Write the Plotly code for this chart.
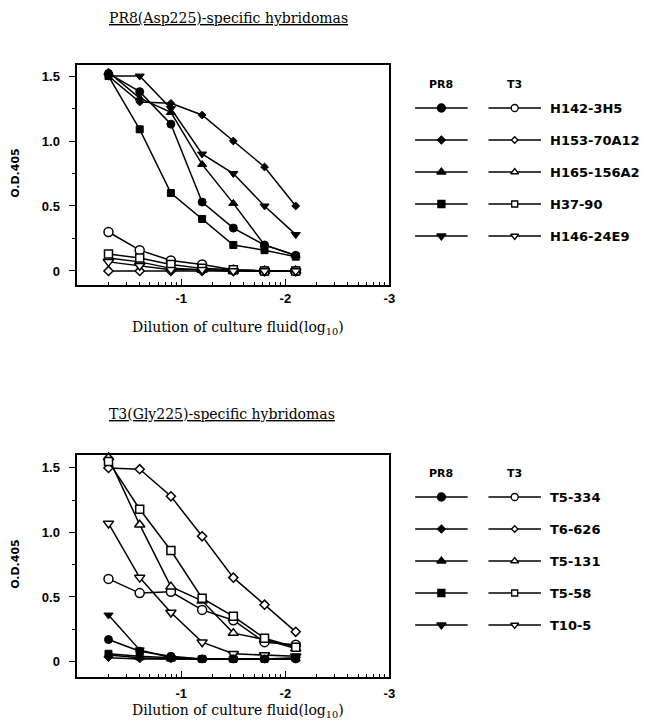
import math
import plotly.graph_objects as go

# ---------------- data ----------------
dilution_log10 = [-0.3, -0.6, -0.9, -1.2, -1.5, -1.8, -2.1]

x_tick_vals = [-1, -2, -3]
x_tick_text = ["-1", "-2", "-3"]
y_tick_vals = [0, 0.5, 1.0, 1.5]
y_tick_text = ["0", "0.5", "1.0", "1.5"]
y_minor_vals = [0.25, 0.75, 1.25]

top_title = "PR8(Asp225)-specific hybridomas"
bottom_title = "T3(Gly225)-specific hybridomas"
x_title = "Dilution of culture fluid(log<sub>10</sub>)"
y_title = "O.D.405"
legend_headers = ["PR8", "T3"]

top_clones = ["H142-3H5", "H153-70A12", "H165-156A2", "H37-90", "H146-24E9"]
bottom_clones = ["T5-334", "T6-626", "T5-131", "T5-58", "T10-5"]

# top chart, PR8 antigen (filled symbols)
top_pr8_h142_3h5 = [1.52, 1.38, 1.13, 0.53, 0.33, 0.20, 0.12]
top_pr8_h153_70a12 = [1.50, 1.30, 1.29, 1.20, 1.00, 0.80, 0.50]
top_pr8_h165_156a2 = [1.53, 1.33, 1.22, 0.82, 0.52, 0.20, 0.12]
top_pr8_h37_90 = [1.50, 1.09, 0.60, 0.40, 0.20, 0.16, 0.11]
top_pr8_h146_24e9 = [1.50, 1.50, 1.25, 0.90, 0.75, 0.50, 0.28]
# top chart, T3 antigen (open symbols)
top_t3_h142_3h5 = [0.30, 0.16, 0.08, 0.05, 0.01, 0.00, 0.00]
top_t3_h153_70a12 = [0.00, 0.00, 0.00, 0.00, 0.00, 0.00, 0.00]
top_t3_h165_156a2 = [0.10, 0.07, 0.02, 0.01, 0.00, 0.00, 0.00]
top_t3_h37_90 = [0.13, 0.10, 0.05, 0.02, 0.01, 0.00, 0.00]
top_t3_h146_24e9 = [0.07, 0.04, 0.01, 0.01, 0.00, 0.00, 0.00]

# bottom chart, PR8 antigen (filled symbols)
bot_pr8_t5_334 = [0.17, 0.08, 0.04, 0.02, 0.02, 0.02, 0.02]
bot_pr8_t6_626 = [0.03, 0.02, 0.02, 0.02, 0.02, 0.02, 0.02]
bot_pr8_t5_131 = [0.05, 0.03, 0.02, 0.02, 0.02, 0.02, 0.02]
bot_pr8_t5_58 = [0.06, 0.04, 0.03, 0.02, 0.02, 0.02, 0.03]
bot_pr8_t10_5 = [0.36, 0.09, 0.03, 0.02, 0.02, 0.02, 0.02]
# bottom chart, T3 antigen (open symbols)
bot_t3_t5_334 = [0.64, 0.53, 0.54, 0.40, 0.32, 0.15, 0.13]
bot_t3_t6_626 = [1.50, 1.49, 1.28, 0.97, 0.65, 0.44, 0.23]
bot_t3_t5_131 = [1.58, 1.06, 0.58, 0.47, 0.22, 0.17, 0.10]
bot_t3_t5_58 = [1.55, 1.18, 0.86, 0.49, 0.35, 0.18, 0.11]
bot_t3_t10_5 = [1.07, 0.65, 0.38, 0.15, 0.06, 0.05, 0.04]

top_pr8 = [top_pr8_h142_3h5, top_pr8_h153_70a12, top_pr8_h165_156a2, top_pr8_h37_90, top_pr8_h146_24e9]
top_t3 = [top_t3_h142_3h5, top_t3_h153_70a12, top_t3_h165_156a2, top_t3_h37_90, top_t3_h146_24e9]
bot_pr8 = [bot_pr8_t5_334, bot_pr8_t6_626, bot_pr8_t5_131, bot_pr8_t5_58, bot_pr8_t10_5]
bot_t3 = [bot_t3_t5_334, bot_t3_t6_626, bot_t3_t5_131, bot_t3_t5_58, bot_t3_t10_5]

# ---------------- style ----------------
W, H = 650, 728
symbols = ["circle", "diamond", "triangle-up", "square", "triangle-down"]
sizes = [8, 6, 8, 7, 8]
LINE_W = 1.5
SANS = "Liberation Sans, Arial, sans-serif"
SANS_W = "DejaVu Sans, Verdana, sans-serif"
SERIF = "DejaVu Serif, Georgia, serif"

plot_left, plot_right = 78, 393
top_box = (65, 285)      # pixel top / bottom
bot_box = (455, 677)
top_range = [-0.108, 1.585]
bot_range = [-0.12, 1.60]

legend_rows_top = 108
legend_rows_bot = 497
row_gap = 32
pr8_seg = (419, 472)
t3_seg = (493, 546)
label_x = 553
title_x = 108
title_y = (18, 414)
xtitle_y = (328, 711)
ytitle_x = 15


def px_dom_x(a, b):
    return [a / W, b / W]


def px_dom_y(top, bottom):
    return [1 - bottom / H, 1 - top / H]


fig = go.Figure()


def add_series(values_pr8, values_t3, xa, ya):
    for i in range(len(values_pr8)):
        fig.add_trace(go.Scatter(
            x=dilution_log10, y=values_t3[i], mode="lines+markers",
            xaxis=xa, yaxis=ya, showlegend=False, cliponaxis=False,
            line=dict(color="black", width=LINE_W),
            marker=dict(symbol=symbols[i], size=sizes[i] + 1, color="white",
                        line=dict(color="black", width=1.5))))
    for i in range(len(values_pr8)):
        fig.add_trace(go.Scatter(
            x=dilution_log10, y=values_pr8[i], mode="lines+markers",
            xaxis=xa, yaxis=ya, showlegend=False, cliponaxis=False,
            line=dict(color="black", width=LINE_W),
            marker=dict(symbol=symbols[i], size=sizes[i], color="black",
                        line=dict(color="black", width=1))))


add_series(top_pr8, top_t3, "x", "y")
add_series(bot_pr8, bot_t3, "x2", "y2")

# ---- custom legend drawn on a hidden pixel-scaled axis ----
annotations = []
for clones, row0 in ((top_clones, legend_rows_top), (bottom_clones, legend_rows_bot)):
    for i, name in enumerate(clones):
        yy = row0 + i * row_gap
        for seg, filled in ((pr8_seg, True), (t3_seg, False)):
            mid = (seg[0] + seg[1]) / 2
            fig.add_trace(go.Scatter(
                x=[seg[0], seg[1]], y=[yy, yy], mode="lines", xaxis="x3", yaxis="y3",
                showlegend=False, line=dict(color="black", width=LINE_W)))
            fig.add_trace(go.Scatter(
                x=[mid], y=[yy], mode="markers", xaxis="x3", yaxis="y3", showlegend=False,
                marker=dict(symbol=symbols[i], size=sizes[i] if filled else sizes[i] - 1,
                            color="black" if filled else "white",
                            line=dict(color="black", width=1.3))))
        annotations.append(dict(
            x=label_x, y=yy, xref="x3", yref="y3", text=name, showarrow=False,
            xanchor="left", yanchor="middle",
            font=dict(family=SANS_W, size=13, color="black", weight="bold")))
    for hdr, seg in zip(legend_headers, (pr8_seg, t3_seg)):
        annotations.append(dict(
            x=(seg[0] + seg[1]) / 2, y=row0 - 24, xref="x3", yref="y3", text=hdr,
            showarrow=False, xanchor="center", yanchor="middle",
            font=dict(family=SANS_W, size=11, color="black", weight="bold")))

# titles & axis titles
for title, ty, xty, box in ((top_title, title_y[0], xtitle_y[0], top_box),
                            (bottom_title, title_y[1], xtitle_y[1], bot_box)):
    annotations.append(dict(
        x=title_x, y=ty, xref="x3", yref="y3", text="<u>" + title + "</u>", showarrow=False,
        xanchor="left", yanchor="middle",
        font=dict(family=SERIF, size=14, color="black")))
    annotations.append(dict(
        x=ytitle_x, y=(box[0] + box[1]) / 2 - 2, xref="x3", yref="y3", text=y_title,
        showarrow=False, textangle=-90, xanchor="center", yanchor="middle",
        font=dict(family=SANS_W, size=11, color="black", weight="bold")))
    annotations.append(dict(
        x=240, y=xty, xref="x3", yref="y3", text=x_title, showarrow=False,
        xanchor="center", yanchor="middle",
        font=dict(family=SERIF, size=14, color="black")))

minor_x = [-(d + math.log10(k)) for d in range(3) for k in range(2, 10)]

xax = dict(
    range=[0, -3], tickvals=x_tick_vals, ticktext=x_tick_text,
    ticks="inside", ticklen=6, tickwidth=1.4, tickcolor="black",
    minor=dict(tickvals=minor_x, ticks="inside", ticklen=3, tickwidth=1.2, tickcolor="black"),
    showline=True, linecolor="black", linewidth=1.5, mirror=True,
    showgrid=False, zeroline=False,
    tickfont=dict(family=SANS, size=13, color="black", weight="bold"),
    domain=px_dom_x(plot_left, plot_right))
yax = dict(
    tickvals=y_tick_vals, ticktext=y_tick_text,
    ticks="outside", ticklen=7, tickwidth=1.4, tickcolor="black", ticklabelstandoff=6,
    minor=dict(tickvals=y_minor_vals, ticks="outside", ticklen=4, tickwidth=1.2, tickcolor="black"),
    showline=True, linecolor="black", linewidth=1.5, mirror=True,
    showgrid=False, zeroline=False,
    tickfont=dict(family=SANS, size=13, color="black", weight="bold"))

fig.update_layout(
    width=W, height=H, margin=dict(l=0, r=0, t=0, b=0),
    paper_bgcolor="white", plot_bgcolor="rgba(0,0,0,0)", showlegend=False,
    hovermode=False,
    xaxis=dict(xax, anchor="y", ticklabelstandoff=1),
    yaxis=dict(yax, anchor="x", range=top_range, domain=px_dom_y(*top_box)),
    xaxis2=dict(xax, anchor="y2", ticklabelstandoff=4),
    yaxis2=dict(yax, anchor="x2", range=bot_range, domain=px_dom_y(*bot_box)),
    xaxis3=dict(range=[0, W], domain=[0, 1], visible=False, anchor="y3", fixedrange=True),
    yaxis3=dict(range=[H, 0], domain=[0, 1], visible=False, anchor="x3", fixedrange=True),
    annotations=annotations,
)

fig.write_html("out.html", config={"displayModeBar": False},
               post_script="document.body.style.margin='0';")
